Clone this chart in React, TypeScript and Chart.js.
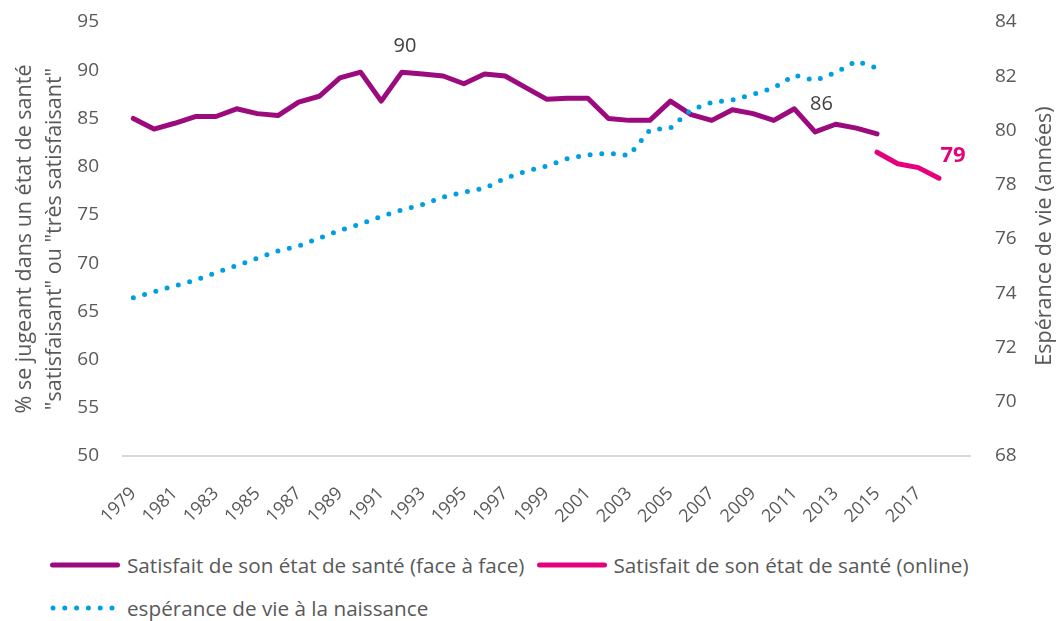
import React, { useEffect, useRef } from 'react';
import { Chart, registerables } from 'chart.js';

Chart.register(...registerables);

// ---- data ----
const years = [
  1979, 1980, 1981, 1982, 1983, 1984, 1985, 1986, 1987, 1988,
  1989, 1990, 1991, 1992, 1993, 1994, 1995, 1996, 1997, 1998,
  1999, 2000, 2001, 2002, 2003, 2004, 2005, 2006, 2007, 2008,
  2009, 2010, 2011, 2012, 2013, 2014, 2015, 2016, 2017, 2018, 2019,
];

// Satisfait de son état de santé (face à face), 1979–2015
const faceToFaceYears = years.slice(0, 37);
const faceToFaceValues = [
  85.0, 83.9, 84.5, 85.2, 85.2, 86.0, 85.5, 85.3, 86.7, 87.3,
  89.2, 89.8, 86.8, 89.8, 89.6, 89.4, 88.6, 89.6, 89.4, 88.2,
  87.0, 87.1, 87.1, 85.0, 84.8, 84.8, 86.8, 85.4, 84.8, 85.9,
  85.5, 84.8, 86.0, 83.6, 84.4, 84.0, 83.4,
];

// Satisfait de son état de santé (online), 2015–2018
const onlineYears = [2015, 2016, 2017, 2018];
const onlineValues = [81.5, 80.3, 79.9, 78.8];

// espérance de vie à la naissance, 1979–2015
const lifeYears = years.slice(0, 37);
const lifeValues = [
  73.83, 74.05, 74.27, 74.48, 74.76, 75.02, 75.29, 75.56, 75.74, 76.03,
  76.32, 76.55, 76.83, 77.07, 77.27, 77.55, 77.73, 77.87, 78.24, 78.5,
  78.69, 78.96, 79.1, 79.16, 79.08, 80.02, 80.09, 80.76, 81.04, 81.13,
  81.33, 81.57, 82.04, 81.84, 82.14, 82.56, 82.3,
];

const lastLabelledYear = 2017;

const seriesLabels = [
  'Satisfait de son état de santé (face à face)',
  'Satisfait de son état de santé (online)',
  'espérance de vie à la naissance',
];

const leftTitle = ['% se jugeant dans un état de santé', '"satisfaisant" ou "très satisfaisant"'];
const rightTitle = 'Espérance de vie (années)';

// data labels: [series index, year, text]
const labelSeries = [0, 0, 1];
const labelYears = [1992, 2011, 2018];
const labelTexts = ['90', '86', '79'];

// ---- styles ----
const PURPLE = '#9C0B7D';
const PINK = '#E5007E';
const BLUE = '#009FE3';
const TEXT = '#595959';
const LABEL = '#404040';
const FONT = "'Open Sans', sans-serif";

function align(xs: number[], vs: number[]) {
  return years.map((y) => {
    const i = xs.indexOf(y);
    return i >= 0 ? vs[i] : null;
  });
}

const dataLabelPlugin = {
  id: 'dataLabels',
  afterDatasetsDraw(chart: any) {
    const ctx = chart.ctx;
    const offsets = [
      [3, -26],
      [27, -5],
      [14, -23],
    ];
    ctx.save();
    ctx.textAlign = 'center';
    ctx.textBaseline = 'middle';
    labelTexts.forEach((t, k) => {
      const meta = chart.getDatasetMeta(labelSeries[k]);
      const idx = years.indexOf(labelYears[k]);
      const pt = meta.data[idx];
      if (!pt) return;
      if (labelSeries[k] === 1) {
        ctx.font = `bold 22px ${FONT}`;
        ctx.fillStyle = PINK;
      } else {
        ctx.font = `20px ${FONT}`;
        ctx.fillStyle = LABEL;
      }
      ctx.fillText(t, pt.x + offsets[k][0], pt.y + offsets[k][1]);
    });
    // right axis title (reads bottom to top)
    const area = chart.chartArea;
    ctx.translate(chart.width - 12.5, (area.top + area.bottom) / 2 - 3);
    ctx.rotate(-Math.PI / 2);
    ctx.font = `21.5px ${FONT}`;
    ctx.fillStyle = TEXT;
    ctx.fillText(rightTitle, 0, 0);
    ctx.restore();
  },
};

function LegendLine({ color, dotted }: { color: string; dotted?: boolean }) {
  return (
    <svg width={70} height={10} style={{ display: 'block', flex: '0 0 auto' }}>
      {dotted ? (
        <line x1={3} y1={5} x2={66} y2={5} stroke={color} strokeWidth={5}
          strokeLinecap="round" strokeDasharray="0 11.8" />
      ) : (
        <line x1={2.5} y1={5} x2={67.5} y2={5} stroke={color} strokeWidth={5}
          strokeLinecap="round" />
      )}
    </svg>
  );
}

export default function App() {
  const ref = useRef<HTMLCanvasElement | null>(null);

  useEffect(() => {
    document.body.style.margin = '0';
    if (!ref.current) return;
    const chart = new Chart(ref.current, {
      type: 'line',
      data: {
        labels: years.map(String),
        datasets: [
          {
            label: seriesLabels[0],
            data: align(faceToFaceYears, faceToFaceValues),
            borderColor: PURPLE,
            backgroundColor: PURPLE,
            borderWidth: 5,
            borderJoinStyle: 'round',
            borderCapStyle: 'round',
            pointRadius: 0,
            yAxisID: 'y',
            order: 2,
          },
          {
            label: seriesLabels[1],
            data: align(onlineYears, onlineValues),
            borderColor: PINK,
            backgroundColor: PINK,
            borderWidth: 5,
            borderJoinStyle: 'round',
            borderCapStyle: 'round',
            pointRadius: 0,
            yAxisID: 'y',
            order: 1,
          },
          {
            label: seriesLabels[2],
            data: align(lifeYears, lifeValues),
            borderColor: BLUE,
            backgroundColor: BLUE,
            borderWidth: 5,
            borderDash: [0, 11.7],
            borderCapStyle: 'round',
            pointRadius: 0,
            yAxisID: 'y1',
            order: 0,
          },
        ],
      } as any,
      options: {
        animation: false,
        responsive: false,
        maintainAspectRatio: false,
        layout: { padding: { top: 22, left: 0, right: 0, bottom: 0 } },
        plugins: {
          legend: { display: false },
          tooltip: { enabled: false },
        },
        scales: {
          x: {
            offset: true,
            grid: { display: false, drawTicks: false },
            border: { display: true, color: '#D9D9D9', width: 2 },
            ticks: {
              autoSkip: false,
              minRotation: 45,
              maxRotation: 45,
              padding: 27,
              color: TEXT,
              font: { family: FONT, size: 18 },
              callback: (_v: any, i: number) =>
                i % 2 === 0 && years[i] <= lastLabelledYear ? String(years[i]) : '',
            },
            afterFit: (s: any) => { s.height = 74; },
          },
          y: {
            position: 'left',
            min: 50,
            max: 95,
            grid: { display: false, drawTicks: false },
            border: { display: false },
            ticks: {
              stepSize: 5,
              padding: 24,
              color: TEXT,
              font: { family: FONT, size: 19 },
            },
            title: {
              display: true,
              text: leftTitle,
              color: TEXT,
              font: { family: FONT, size: 21.5, lineHeight: 1.395 },
              padding: { top: 9.7, bottom: 0 },
            },
            afterFit: (s: any) => { s.width = 123; s.paddingTop = 0; s.paddingBottom = 0; },
          },
          y1: {
            position: 'right',
            min: 68,
            max: 84,
            grid: { display: false, drawTicks: false },
            border: { display: false },
            ticks: {
              stepSize: 2,
              padding: 25,
              color: TEXT,
              font: { family: FONT, size: 19 },
            },
            afterFit: (s: any) => { s.width = 87; s.paddingTop = 0; s.paddingBottom = 0; },
          },
        },
      } as any,
      plugins: [dataLabelPlugin],
    });
    return () => chart.destroy();
  }, []);

  const textStyle: React.CSSProperties = {
    fontFamily: FONT,
    fontSize: 20.7,
    color: TEXT,
    whiteSpace: 'nowrap',
    lineHeight: '26px',
  };

  return (
    <div style={{ width: 1057, height: 621, position: 'relative', overflow: 'hidden', background: '#fff' }}>
      <canvas ref={ref} width={1057} height={530} style={{ display: 'block' }} />
      <div style={{ position: 'absolute', left: 50, top: 552, display: 'flex', alignItems: 'center' }}>
        <LegendLine color={PURPLE} />
        <span style={{ ...textStyle, marginLeft: 7 }}>{seriesLabels[0]}</span>
        <span style={{ marginLeft: 13 }}><LegendLine color={PINK} /></span>
        <span style={{ ...textStyle, marginLeft: 6 }}>{seriesLabels[1]}</span>
      </div>
      <div style={{ position: 'absolute', left: 50, top: 595, display: 'flex', alignItems: 'center' }}>
        <LegendLine color={BLUE} dotted />
        <span style={{ ...textStyle, marginLeft: 7 }}>{seriesLabels[2]}</span>
      </div>
    </div>
  );
}
